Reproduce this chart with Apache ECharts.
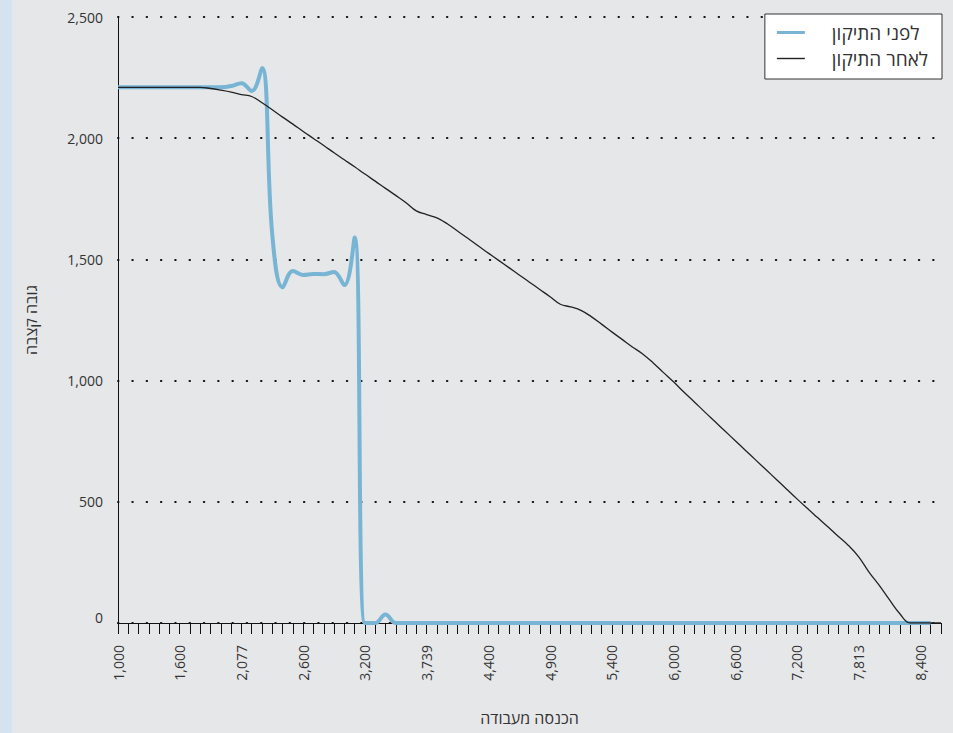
<!DOCTYPE html>
<html>
<head>
<meta charset="utf-8">
<script src="https://cdn.jsdelivr.net/npm/echarts@6/dist/echarts.min.js"></script>
<style>
  html, body { margin: 0; padding: 0; background: #e6e7e9; }
  #chart { width: 953px; height: 733px; }
</style>
</head>
<body>
<div id="chart"></div>
<script>
// הכנסה מעבודה - categories (labels shown every 6th)
const incomes = [
  1000, 1100, 1200, 1300, 1400, 1500, 1600, 1700, 1800, 1900, 2000,
  2050, 2077, 2100, 2200, 2300, 2400, 2500, 2600,
  2700, 2800, 2900, 3000, 3100, 3200,
  3300, 3400, 3500, 3600, 3700, 3739,
  3800, 3900, 4000, 4100, 4200, 4400,
  4500, 4600, 4700, 4800, 4850, 4900,
  5000, 5050, 5100, 5200, 5300, 5400,
  5500, 5600, 5700, 5800, 5900, 6000,
  6100, 6200, 6300, 6400, 6500, 6600,
  6700, 6800, 6900, 7000, 7100, 7200,
  7300, 7400, 7500, 7600, 7700, 7813,
  7900, 8000, 8100, 8200, 8300, 8400,
  8500, 8600
];

// לפני התיקון
const beforeFix = [
  2210, 2210, 2210, 2210, 2210, 2210, 2210, 2210, 2210, 2210, 2210,
  2215, 2227, 2195, 2290, 1600, 1385, 1452, 1436,
  1440, 1439, 1448, 1394, 1590, 0,
  0, 35, 0, 0, 0, 0,
  0, 0, 0, 0, 0, 0,
  0, 0, 0, 0, 0, 0,
  0, 0, 0, 0, 0, 0,
  0, 0, 0, 0, 0, 0,
  0, 0, 0, 0, 0, 0,
  0, 0, 0, 0, 0, 0,
  0, 0, 0, 0, 0, 0,
  0, 0, 0, 0, 0, 0,
  0
];

// לאחר התיקון
const afterFix = [
  2210, 2210, 2210, 2210, 2210, 2210, 2210, 2210, 2210, 2205, 2198,
  2190, 2180, 2172, 2146, 2117, 2087, 2058, 2028,
  1999, 1970, 1940, 1911, 1882, 1852,
  1823, 1793, 1764, 1734, 1700, 1685,
  1671, 1647, 1617, 1587, 1556, 1526,
  1496, 1466, 1436, 1406, 1376, 1346,
  1315, 1304, 1290, 1264, 1233, 1201,
  1170, 1139, 1110, 1074, 1034, 995,
  953, 913, 872, 832, 792, 752,
  712, 672, 632, 592, 552, 512,
  473, 435, 397, 358, 320, 273,
  210, 155, 95, 38, 0, 0,
  0, 0
];

const yTicks = [0, 500, 1000, 1500, 2000, 2500];

const FONT = '"Open Sans", "DejaVu Sans", sans-serif';
const fmt = v => Number(v).toLocaleString('en-US');

// svg keeps the browser's bidi handling for the Hebrew strings
const myChart = echarts.init(document.getElementById('chart'), null, { renderer: 'svg' });

const option = {
  backgroundColor: '#e6e7e9',
  animation: false,
  textStyle: { fontFamily: FONT },
  graphic: [
    {
      type: 'rect',
      left: 0,
      top: 0,
      shape: { width: 12, height: 733 },
      style: { fill: '#d3e4f0' }
    }
  ],
  grid: {
    left: 118,
    right: 12,
    top: 17,
    bottom: 110,
    outerBoundsMode: 'none'
  },
  legend: {
    orient: 'vertical',
    right: 11,
    top: 14,
    backgroundColor: '#ffffff',
    borderColor: '#333333',
    borderWidth: 1,
    padding: [9, 14, 11, 12],
    itemWidth: 28,
    itemHeight: 14,
    itemGap: 7,
    textStyle: {
      fontFamily: FONT,
      fontSize: 19,
      color: '#333',
      padding: [0, 0, 0, 22]
    },
    data: [
      { name: 'לפני התיקון', icon: 'path://M0,6 L28,6 L28,9 L0,9 Z', itemStyle: { color: '#78b4d4' } },
      { name: 'לאחר התיקון', icon: 'path://M0,7 L28,7 L28,8.4 L0,8.4 Z', itemStyle: { color: '#222' } }
    ]
  },
  xAxis: {
    type: 'category',
    boundaryGap: false,
    data: incomes.map(fmt),
    name: 'הכנסה מעבודה',
    nameLocation: 'middle',
    nameGap: 87,
    nameTextStyle: { fontFamily: FONT, fontSize: 16, color: '#333' },
    axisLine: { lineStyle: { color: '#111', width: 1 } },
    axisTick: {
      interval: 0,
      length: 11,
      lineStyle: { color: '#111', width: 1 }
    },
    axisLabel: {
      interval: 5,
      rotate: 90,
      margin: 22,
      fontFamily: FONT,
      fontSize: 14,
      color: '#333'
    },
    splitLine: { show: false }
  },
  yAxis: {
    type: 'value',
    min: yTicks[0],
    max: yTicks[yTicks.length - 1],
    interval: yTicks[1] - yTicks[0],
    name: 'גובה קצבה',
    nameLocation: 'middle',
    nameGap: 79,
    nameTextStyle: { fontFamily: FONT, fontSize: 16, color: '#333' },
    axisLine: { show: true, lineStyle: { color: '#111', width: 1 } },
    axisTick: { show: false },
    axisLabel: {
      margin: 15,
      fontFamily: FONT,
      fontSize: 14,
      color: '#333',
      formatter: v => (v === 0 ? '{z|0}' : fmt(v)),
      rich: {
        z: { fontFamily: FONT, fontSize: 14, color: '#333', padding: [0, 0, 12, 0] }
      }
    },
    splitLine: {
      lineStyle: {
        color: '#111',
        width: 2,
        type: [0.5, 13.8],
        cap: 'round'
      }
    }
  },
  series: [
    {
      name: 'לפני התיקון',
      type: 'line',
      data: beforeFix,
      smooth: 0.4,
      symbol: 'none',
      lineStyle: { color: '#78b4d4', width: 4 },
      itemStyle: { color: '#78b4d4' }
    },
    {
      name: 'לאחר התיקון',
      type: 'line',
      data: afterFix,
      smooth: 0.4,
      symbol: 'none',
      lineStyle: { color: '#222', width: 1.3 },
      itemStyle: { color: '#222' }
    }
  ]
};

option && myChart.setOption(option);
</script>
</body>
</html>
